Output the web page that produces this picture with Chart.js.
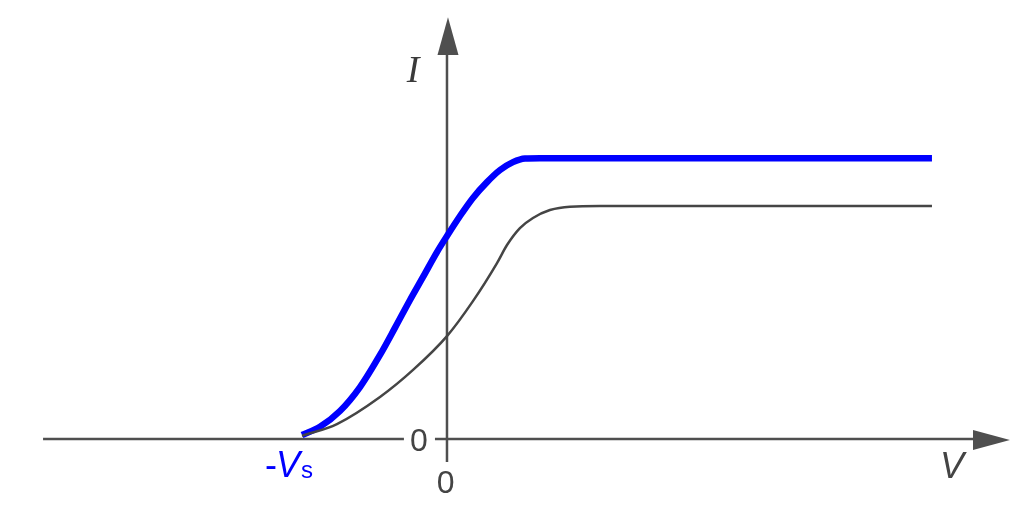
<!DOCTYPE html>
<html>
<head>
<meta charset="utf-8">
<script src="https://cdn.jsdelivr.net/npm/chart.js@4/dist/chart.umd.min.js"></script>
<style>
  body { margin: 0; background: #fff; }
  #wrap { width: 1022px; height: 512px; position: relative; }
</style>
</head>
<body>
<div id="wrap"><canvas id="myChart"></canvas></div>
<script>
// photocurrent I against voltage V, stopping voltage Vs = 1 unit
const vBlue = [-1.000, -0.876, -0.738, -0.600, -0.462, -0.359, -0.255, -0.166, -0.069, 0.000, 0.090, 0.179, 0.276, 0.366, 0.455, 0.538, 0.641, 3.345];
const iBlue = [0.014, 0.043, 0.099, 0.184, 0.298, 0.394, 0.493, 0.574, 0.663, 0.720, 0.791, 0.855, 0.911, 0.954, 0.982, 0.995, 0.996, 0.996];

const vGray = [-1.000, -0.759, -0.462, -0.234, 0.000, 0.179, 0.345, 0.414, 0.503, 0.593, 0.710, 0.848, 1.055, 3.345];
const iGray = [0.011, 0.053, 0.149, 0.245, 0.365, 0.489, 0.624, 0.688, 0.748, 0.784, 0.812, 0.824, 0.826, 0.826];

const axisColor = '#4f4f4f'
const blue = '#0000ff'

function pts(xs, ys) {
    return xs.map(function (x, k) { return { x: x, y: ys[k] } })
}

// draws the arrowed axes under the curves and the labels on top
const axesPlugin = {
    id: 'axesPlugin',
    beforeDatasetsDraw(chart) {
        const ctx = chart.ctx
        const sx = chart.scales.x, sy = chart.scales.y
        const y0 = sy.getPixelForValue(0)
        const x0 = sx.getPixelForValue(0)
        ctx.save()
        ctx.strokeStyle = axisColor
        ctx.fillStyle = axisColor
        ctx.lineWidth = 2.5
        // x axis, broken where the "0" sits
        ctx.beginPath()
        ctx.moveTo(sx.getPixelForValue(-2.786), y0)
        ctx.lineTo(sx.getPixelForValue(-0.297), y0)
        ctx.moveTo(sx.getPixelForValue(-0.083), y0)
        ctx.lineTo(sx.getPixelForValue(3.70), y0)
        ctx.stroke()
        const tipX = sx.getPixelForValue(3.883), baseX = sx.getPixelForValue(3.628)
        ctx.beginPath()
        ctx.moveTo(tipX, y0 + 1)
        ctx.lineTo(baseX, y0 - 9)
        ctx.lineTo(baseX, y0 + 11)
        ctx.closePath()
        ctx.fill()
        // y axis
        ctx.beginPath()
        ctx.moveTo(x0, sy.getPixelForValue(-0.082))
        ctx.lineTo(x0, sy.getPixelForValue(1.40))
        ctx.stroke()
        const tipY = sy.getPixelForValue(1.496), baseY = sy.getPixelForValue(1.362)
        ctx.beginPath()
        ctx.moveTo(x0 + 1, tipY)
        ctx.lineTo(x0 - 9.5, baseY)
        ctx.lineTo(x0 + 11.5, baseY)
        ctx.closePath()
        ctx.fill()
        ctx.restore()
    },
    afterDraw(chart) {
        const ctx = chart.ctx
        const sx = chart.scales.x, sy = chart.scales.y
        ctx.save()
        ctx.textAlign = 'center'
        ctx.textBaseline = 'middle'
        ctx.fillStyle = '#3a3a3a'
        ctx.font = 'italic 38px "Liberation Serif", serif'
        ctx.fillText('I', sx.getPixelForValue(-0.234), sy.getPixelForValue(1.300))
        ctx.fillStyle = '#444'
        ctx.font = 'italic 36px "Liberation Sans", Arial, sans-serif'
        ctx.fillText('V', sx.getPixelForValue(3.483), sy.getPixelForValue(-0.103))
        ctx.font = '32px "Liberation Sans", Arial, sans-serif'
        ctx.fillText('0', sx.getPixelForValue(-0.193), sy.getPixelForValue(-0.010))
        ctx.fillText('0', sx.getPixelForValue(-0.010), sy.getPixelForValue(-0.162))
        // -Vs in blue
        ctx.fillStyle = blue
        ctx.textAlign = 'left'
        ctx.textBaseline = 'alphabetic'
        let x = sx.getPixelForValue(-1.255)
        const base = sy.getPixelForValue(-0.134)
        ctx.font = '36px "Liberation Sans", Arial, sans-serif'
        ctx.fillText('-', x, base)
        x += ctx.measureText('-').width - 1
        ctx.font = 'italic 36px "Liberation Sans", Arial, sans-serif'
        ctx.fillText('V', x, base)
        x += ctx.measureText('V').width + 1
        ctx.font = '24px "Liberation Sans", Arial, sans-serif'
        ctx.fillText('s', x, base + 1)
        ctx.restore()
    }
}

new Chart("myChart", {
    type: 'line',
    data: {
        datasets: [{
            data: pts(vGray, iGray),
            borderColor: '#454545',
            borderWidth: 2.5,
            pointRadius: 0,
            cubicInterpolationMode: 'monotone'
        }, {
            data: pts(vBlue, iBlue),
            borderColor: blue,
            borderWidth: 6.5,
            pointRadius: 0,
            borderCapStyle: 'butt',
            cubicInterpolationMode: 'monotone'
        }]
    },
    options: {
        responsive: true,
        maintainAspectRatio: false,
        animation: false,
        layout: { padding: 0 },
        plugins: { legend: { display: false }, tooltip: { enabled: false } },
        scales: {
            x: { type: 'linear', min: -3.083, max: 3.966, display: false },
            y: { type: 'linear', min: -0.259, max: 1.557, display: false }
        }
    },
    plugins: [axesPlugin]
})
</script>
</body>
</html>
